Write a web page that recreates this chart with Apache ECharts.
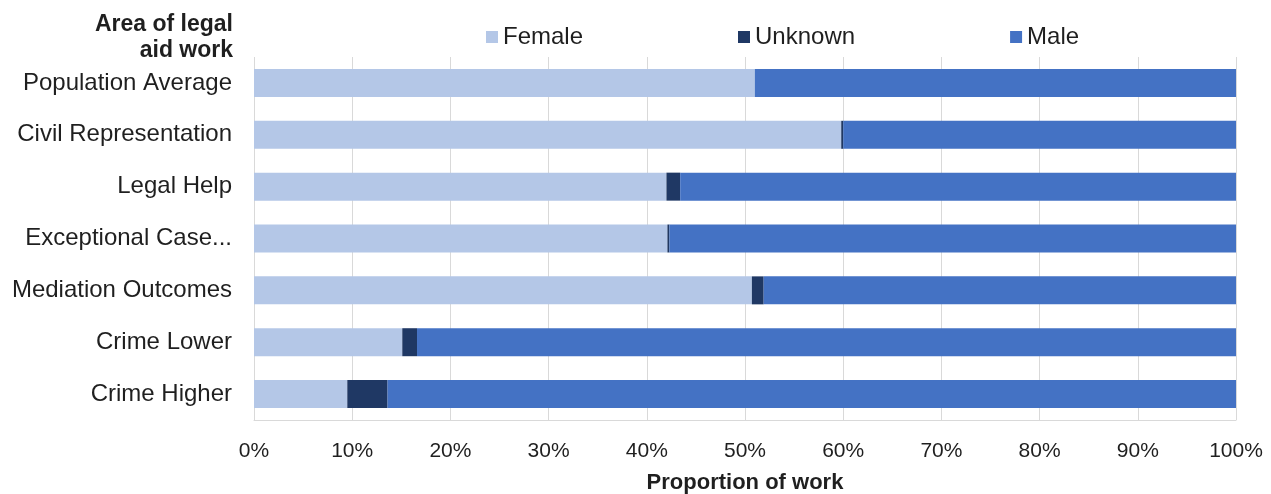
<!DOCTYPE html>
<html>
<head>
<meta charset="utf-8">
<script src="https://cdn.jsdelivr.net/npm/echarts@6/dist/echarts.min.js"></script>
<style>
  html, body { margin: 0; padding: 0; background: #fff; }
  #chart { width: 1271px; height: 494px; }
</style>
</head>
<body>
<div id="chart"></div>
<script>
// categories top to bottom
var categories = ['Population Average', 'Civil Representation', 'Legal Help',
    'Exceptional Case Funding', 'Mediation Outcomes', 'Crime Lower', 'Crime Higher'];
// percent of work
var female  = [51.0, 59.8, 42.0, 42.1, 50.7, 15.1, 9.5];
var unknown = [0.0, 0.2, 1.4, 0.2, 1.2, 1.5, 4.1];
var male    = [49.0, 40.0, 56.6, 57.7, 48.1, 83.4, 86.4];
var xTicks  = [0, 10, 20, 30, 40, 50, 60, 70, 80, 90, 100];

var FONT = '"Liberation Sans", Arial, sans-serif';
var TXT = '#1f1f1f';

// long names get cut like in the source chart
function shortLabel(v) {
    return v.length > 20 ? v.slice(0, 16) + '...' : v;
}

function initChart() {
    var chart = echarts.init(document.getElementById('chart'));
    var option = {
        animation: false,
        textStyle: { fontFamily: FONT },
        graphic: [{
            type: 'text',
            x: 233,
            y: 12,
            style: {
                text: 'Area of legal\naid work',
                font: 'bold 23px ' + FONT,
                fill: TXT,
                align: 'right',
                verticalAlign: 'top',
                lineHeight: 26
            }
        }],
        legend: {
            data: ['Female', 'Unknown', 'Male'],
            left: 481,
            top: 20,
            icon: 'rect',
            itemWidth: 12,
            itemHeight: 12,
            itemGap: 155,
            textStyle: { fontFamily: FONT, fontSize: 24, color: TXT }
        },
        grid: { left: 254, right: 35, top: 57, bottom: 74, outerBoundsMode: 'none' },
        xAxis: {
            type: 'value',
            min: xTicks[0],
            max: xTicks[xTicks.length - 1],
            interval: 10,
            name: 'Proportion of work',
            nameLocation: 'middle',
            nameGap: 52,
            nameTextStyle: { fontFamily: FONT, fontSize: 22, fontWeight: 'bold', color: TXT },
            axisLine: { show: true, lineStyle: { color: '#d9d9d9' } },
            axisTick: { show: false },
            splitLine: { show: true, lineStyle: { color: '#d9d9d9' } },
            axisLabel: {
                formatter: '{value}%',
                margin: 21,
                fontFamily: FONT, fontSize: 21, color: TXT
            }
        },
        yAxis: {
            type: 'category',
            data: categories,
            inverse: true,
            axisLine: { show: false },
            axisTick: { show: false },
            axisLabel: {
                margin: 22,
                fontFamily: FONT, fontSize: 24, color: TXT,
                formatter: shortLabel
            }
        },
        series: [
            { name: 'Female', type: 'bar', stack: 'all', data: female, barWidth: 28,
              itemStyle: { color: '#b4c7e7' } },
            { name: 'Unknown', type: 'bar', stack: 'all', data: unknown, barWidth: 28,
              itemStyle: { color: '#1f3864' } },
            { name: 'Male', type: 'bar', stack: 'all', data: male, barWidth: 28,
              itemStyle: { color: '#4472c4' } }
        ]
    };
    chart.setOption(option);
}

initChart();
</script>
</body>
</html>
